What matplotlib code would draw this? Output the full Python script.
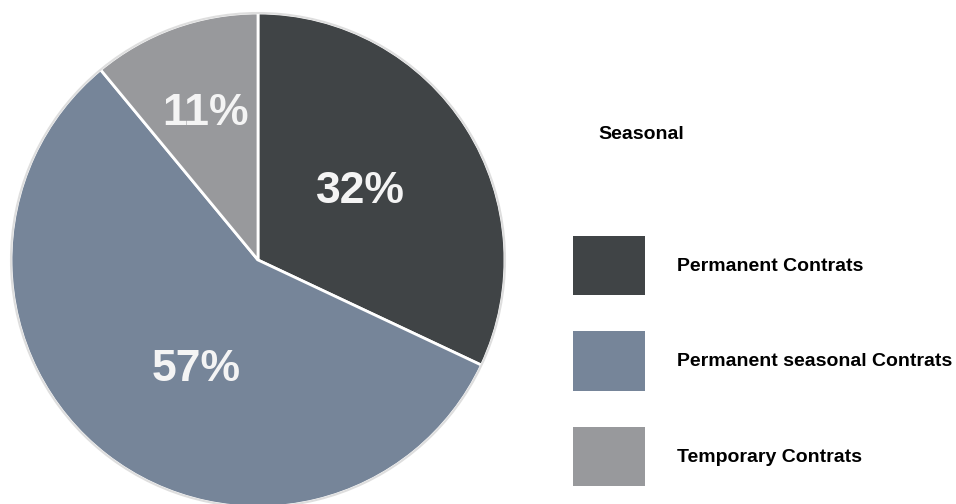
import numpy as np
import matplotlib
matplotlib.use("Agg")
import matplotlib.pyplot as plt
from matplotlib.patches import Circle

plt.rcParams['font.family'] = ['Liberation Sans', 'DejaVu Sans']

# Contract types, share of seasonal workers (%)
categories = ["Permanent Contrats", "Permanent seasonal Contrats", "Temporary Contrats"]
shares = [32, 57, 11]
colors = ["#404446", "#768599", "#98999c"]
legend_title = "Seasonal"

fig = plt.figure(figsize=(9.56, 5.04), dpi=100)
fig.patch.set_facecolor("white")

R_PX = 247
cx, cy = 258, 260
W, H = 956, 504
ax = fig.add_axes([(cx - R_PX) / W, (H - cy - R_PX) / H, 2 * R_PX / W, 2 * R_PX / H])

wedges, texts, autotexts = ax.pie(
    shares, colors=colors, startangle=90, counterclock=False,
    autopct=lambda p: f"{p:.0f}%", pctdistance=0.5,
    wedgeprops=dict(edgecolor="white", linewidth=2),
    textprops=dict(color="#f4f4f4", fontsize=32, fontweight="bold"),
)
ax.set_xlim(-1, 1)
ax.set_ylim(-1, 1)
ax.set_aspect("equal")
for w in wedges:
    w.set_clip_on(False)

# place percentage labels along each wedge's mid-angle
label_r = [0.50, 0.511, 0.63]
label_shift = [1.2, 8.4, 0]
for w, t, r, s in zip(wedges, autotexts, label_r, label_shift):
    mid = np.deg2rad((w.theta1 + w.theta2) / 2 + s)
    t.set_position((r * np.cos(mid), r * np.sin(mid)))

ax.add_patch(Circle((0, 0), 1.0, fill=False, edgecolor="#dedede", linewidth=1.5, clip_on=False))

fig.text(598 / W, 1 - 135 / H, legend_title, fontsize=14, fontweight="bold",
         ha="left", va="center", color="black")

leg = fig.legend(
    wedges, categories, loc="upper left",
    bbox_to_anchor=(573 / W, 1 - 236 / H), bbox_transform=fig.transFigure,
    frameon=False, borderpad=0, borderaxespad=0,
    handlelength=3.7, handleheight=4.33, handletextpad=1.65, labelspacing=1.85,
    prop=dict(size=14, weight="bold"),
)
for h in leg.legend_handles:
    h.set_edgecolor("none")

fig.savefig("out.png", dpi=100, facecolor="white")
